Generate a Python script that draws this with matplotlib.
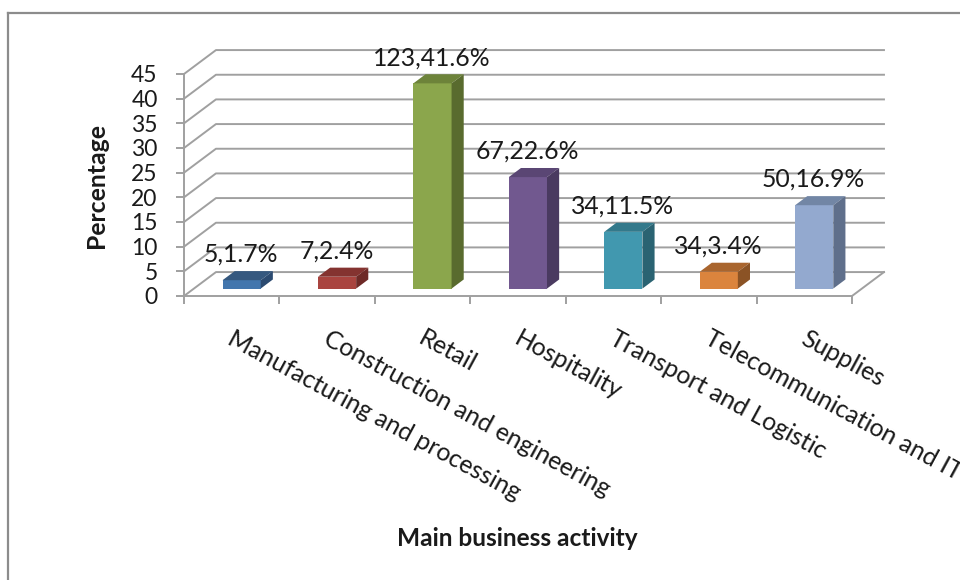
import numpy as np
import matplotlib
matplotlib.use("Agg")
import matplotlib.pyplot as plt
from matplotlib.lines import Line2D
from matplotlib.patches import Polygon

plt.rcParams["font.family"] = ["Lato", "DejaVu Sans"]

categories = ["Manufacturing and processing", "Construction and engineering", "Retail",
              "Hospitality", "Transport and Logistic", "Telecommunication and IT", "Supplies"]
counts = [5, 7, 123, 67, 34, 34, 50]
percent = [1.7, 2.4, 41.6, 22.6, 11.5, 3.4, 16.9]
y_ticks = [0, 5, 10, 15, 20, 25, 30, 35, 40, 45]
front_colors = ["#4376ad", "#a9443f", "#8ba64c", "#71588f", "#4198af", "#db843d", "#93a9cf"]
top_colors = ["#35587f", "#843330", "#6d833a", "#5a4674", "#33798b", "#a9652e", "#7286a5"]
side_colors = ["#2b4a70", "#6e2a27", "#596b2e", "#4a3a60", "#2a6372", "#8b5325", "#5f6f8b"]

GRID = "#a0a0a0"
# oblique depth of the floor, in data units
DX = 0.335
DY = 4.85
BAR_NEAR = 0.31
BAR_FAR = 0.69
BAR_W = 0.40

fig = plt.figure(figsize=(9.6, 5.8), dpi=100)
ax = fig.add_axes([184 / 960, 1 - 296 / 580, 668 / 960, 222 / 580])
ax.patch.set_visible(False)
ax.set_xlim(0, len(categories))
ax.set_ylim(0, 45)

# outer frame, running off the right and bottom edges
fig.add_artist(Line2D([8 / 960, 8 / 960], [0, 1 - 13 / 580], color="#8c8c8c", lw=1.6))
fig.add_artist(Line2D([8 / 960, 1], [1 - 13 / 580, 1 - 13 / 580], color="#8c8c8c", lw=1.6))

# back wall, side wall and floor
n = len(categories)
for v in y_ticks:
    ax.plot([0, DX, n + DX], [v, v + DY, v + DY], color=GRID, lw=1.4, clip_on=False, zorder=1)
ax.plot([n, n + DX], [0, DY], color=GRID, lw=1.4, clip_on=False, zorder=1)

for i, (v, c, t, s) in enumerate(zip(percent, front_colors, top_colors, side_colors)):
    x0 = i + 0.5 + DX * BAR_NEAR - BAR_W / 2
    x1 = x0 + BAR_W
    y0 = DY * BAR_NEAR
    dx = DX * (BAR_FAR - BAR_NEAR)
    dy = DY * (BAR_FAR - BAR_NEAR)
    ax.bar(x0, v, BAR_W, bottom=y0, align="edge", color=c, clip_on=False, zorder=3)
    ax.add_patch(Polygon([(x0, y0 + v), (x1, y0 + v), (x1 + dx, y0 + v + dy), (x0 + dx, y0 + v + dy)],
                         closed=True, color=t, lw=0, clip_on=False, zorder=3))
    ax.add_patch(Polygon([(x1, y0), (x1 + dx, y0 + dy), (x1 + dx, y0 + v + dy), (x1, y0 + v)],
                         closed=True, color=s, lw=0, clip_on=False, zorder=3))
    ax.annotate(f"{counts[i]},{v}%", (x0 + BAR_W / 2, y0 + v + dy), xytext=(-0.5, 12),
                textcoords="offset points", ha="center", va="center",
                fontsize=17.8, color="#1a1a1a", zorder=4, annotation_clip=False)

for side in ["top", "right"]:
    ax.spines[side].set_visible(False)
for side in ["left", "bottom"]:
    ax.spines[side].set_color(GRID)
    ax.spines[side].set_linewidth(1.4)

ax.set_yticks(y_ticks)
ax.tick_params(axis="y", length=6, width=1.4, color=GRID, pad=13, labelsize=16.5, labelcolor="#1a1a1a")
ax.set_xticks(np.arange(n + 1))
ax.set_xticklabels([])
ax.tick_params(axis="x", which="major", length=6, width=1.4, color=GRID)
# slanted category names hang from just right of each slot centre
ax.set_xticks(np.arange(n) + 0.535, minor=True)
ax.set_xticklabels(categories, minor=True, rotation=-28.5, ha="left", va="top",
                   rotation_mode="anchor", fontsize=17.9, color="#1a1a1a")
ax.tick_params(axis="x", which="minor", length=0, pad=22)

fig.text(96 / 960, 1 - 186 / 580, "Percentage", rotation=90, ha="center", va="center",
         fontsize=17.8, fontweight="bold", color="#1a1a1a")
fig.text(517 / 960, 1 - 538 / 580, "Main business activity", ha="center", va="center",
         fontsize=17.6, fontweight="bold", color="#1a1a1a")

fig.savefig("out.png", dpi=100)
